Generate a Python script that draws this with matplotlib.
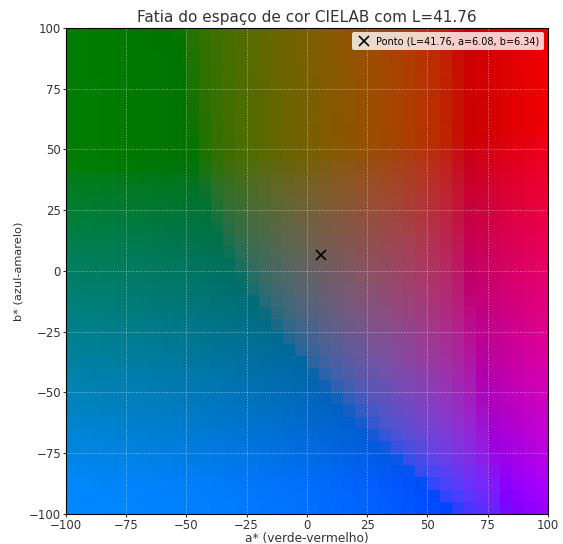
import numpy as np
import matplotlib
matplotlib.use("Agg")
import matplotlib.pyplot as plt

# slice parameters
L_value = 41.76
a_range = [-100, 100]
b_range = [-100, 100]
n_steps = 40
point_a = 6.08
point_b = 6.34
x_ticks = [-100, -75, -50, -25, 0, 25, 50, 75, 100]
y_ticks = [-100, -75, -50, -25, 0, 25, 50, 75, 100]


def lab_to_srgb(L, a, b):
    # D65 white point
    xn, yn, zn = 0.95047, 1.0, 1.08883
    fy = (L + 16.0) / 116.0
    fx = fy + a / 500.0
    fz = fy - b / 200.0

    def finv(t):
        return np.where(t > 6 / 29, t ** 3, (t - 16 / 116) / 7.787)

    X = xn * finv(fx)
    Y = yn * finv(fy)
    Z = zn * finv(fz)

    r = 3.2406 * X - 1.5372 * Y - 0.4986 * Z
    g = -0.9689 * X + 1.8758 * Y + 0.0415 * Z
    bl = 0.0557 * X - 0.2040 * Y + 1.0570 * Z
    rgb = np.stack([r, g, bl], axis=-1)
    rgb = np.clip(rgb, 0, 1)
    rgb = np.where(rgb > 0.0031308, 1.055 * rgb ** (1 / 2.4) - 0.055, 12.92 * rgb)
    return np.clip(rgb, 0, 1)


a_vals = np.linspace(a_range[0], a_range[1], n_steps)
b_vals = np.linspace(b_range[0], b_range[1], n_steps)
A, B = np.meshgrid(a_vals, b_vals)
img = lab_to_srgb(np.full_like(A, L_value), A, B)

fig = plt.figure(figsize=(5.63, 5.44), dpi=100)
ax = fig.add_axes([0.117, 0.055, 0.856, 0.894])
ax.imshow(img, origin="lower", extent=[a_range[0], a_range[1], b_range[0], b_range[1]],
          aspect="auto", interpolation="nearest")
ax.plot(point_a, point_b, "x", color="black", markersize=7, markeredgewidth=1.2,
        label=f"Ponto (L={L_value:.2f}, a={point_a:.2f}, b={point_b:.2f})")

ax.set_xlim(a_range)
ax.set_ylim(b_range)
ax.set_xticks(x_ticks)
ax.set_yticks(y_ticks)
ax.tick_params(labelsize=8.5, length=2, pad=1.5, color="#333333", labelcolor="#333333")
ax.grid(True, color="white", linestyle=":", linewidth=0.7, alpha=0.5)
ax.set_xlabel("a* (verde-vermelho)", fontsize=8.8, color="#333333", labelpad=0)
ax.set_ylabel("b* (azul-amarelo)", fontsize=8.2, color="#333333", labelpad=4)
ax.set_title(f"Fatia do espaço de cor CIELAB com L={L_value:.2f}", fontsize=11,
             color="#333333", pad=4)
leg = ax.legend(loc="upper right", fontsize=7, framealpha=0.8, borderpad=0.45,
                handletextpad=0.6, handlelength=1.4, borderaxespad=0.4)
leg.get_frame().set_edgecolor("none")

fig.savefig("out.png", dpi=100)
